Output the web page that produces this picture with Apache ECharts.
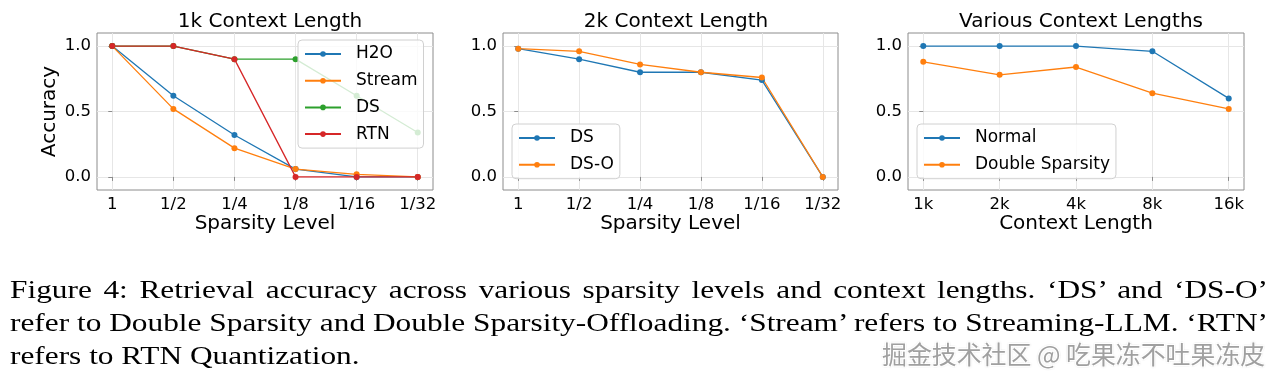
<!DOCTYPE html>
<html>
<head>
<meta charset="utf-8">
<script src="https://cdn.jsdelivr.net/npm/echarts@6/dist/echarts.min.js"></script>
<style>
html,body{margin:0;padding:0;background:#fff;width:1280px;height:383px;overflow:hidden;}
#chart{position:absolute;left:0;top:0;width:1280px;height:383px;}
#caption{position:absolute;left:10px;top:273px;width:1044px;font-family:'Liberation Serif','Times New Roman',serif;font-size:26px;line-height:33px;color:#000;transform:scaleX(1.205);transform-origin:0 0;}
#caption .j{text-align:justify;text-align-last:justify;white-space:nowrap;}
#wm{position:absolute;left:882px;top:335px;font-family:'Noto Sans CJK SC',sans-serif;font-size:24.9px;color:#a0a0a0;text-shadow:1px 1px 0 #fff,-1px -1px 0 #fff,1px -1px 0 #fff,-1px 1px 0 #fff,0 0 2px #666;white-space:nowrap;}
</style>
</head>
<body>
<div id="chart"></div>
<div id="caption">
<div class="j">Figure 4: Retrieval accuracy across various sparsity levels and context lengths. ‘DS’ and ‘DS-O’</div>
<div class="j">refer to Double Sparsity and Double Sparsity-Offloading. ‘Stream’ refers to Streaming-LLM. ‘RTN’</div>
<div>refers to RTN Quantization.</div>
</div>
<div id="wm">掘金技术社区 @ 吃果冻不吐果冻皮</div>
<script>
// ---- data ----
const sparsityLevels = ['1', '1/2', '1/4', '1/8', '1/16', '1/32'];
const contextLengths = ['1k', '2k', '4k', '8k', '16k'];
const yTickValues = [0, 0.5, 1.0];

// Panel 1: 1k context length
const h2o1k    = [1.00, 0.62, 0.32, 0.06, 0.00, 0.00];
const stream1k = [1.00, 0.52, 0.22, 0.06, 0.02, 0.00];
const ds1k     = [1.00, 1.00, 0.90, 0.90, 0.62, 0.34];
const rtn1k    = [1.00, 1.00, 0.90, 0.00, 0.00, 0.00];

// Panel 2: 2k context length
const ds2k  = [0.98, 0.90, 0.80, 0.80, 0.74, 0.00];
const dso2k = [0.98, 0.96, 0.86, 0.80, 0.76, 0.00];

// Panel 3: various context lengths
const normalCtx = [1.00, 1.00, 1.00, 0.96, 0.60];
const doubleSparsityCtx = [0.88, 0.78, 0.84, 0.64, 0.52];

// ---- chart ----
const FONT = 'DejaVu Sans';
const C = {blue:'#1f77b4', orange:'#ff7f0e', green:'#2ca02c', red:'#d62728'};
const toXY = vals => vals.map((v, i) => [i, v]);

const grids = [
  {left: 97, top: 33, width: 336, height: 157},
  {left: 503, top: 33, width: 335, height: 157},
  {left: 908, top: 33, width: 336, height: 157}
].map(g => Object.assign(g, {show: true, borderColor: '#8c8c8c', borderWidth: 1, backgroundColor: 'transparent'}));

function xAxisCfg(gi, cats, name) {
  const n = cats.length;
  const pad = (n - 1) * 0.05;
  const idx = cats.map((c, i) => i);
  return {
    type: 'value', gridIndex: gi, min: -pad, max: n - 1 + pad,
    name: name, nameLocation: 'middle', nameGap: 21,
    nameTextStyle: {fontSize: 20, color: '#000', fontFamily: FONT},
    axisLine: {show: false},
    axisTick: {show: true, customValues: idx, length: 4, lineStyle: {color: '#8c8c8c'}},
    axisLabel: {customValues: idx, formatter: v => cats[Math.round(v)], fontSize: 16.5, color: '#000', fontFamily: FONT, margin: 6},
    splitLine: {show: true, lineStyle: {color: '#e6e6e6', width: 1}}
  };
}
function yAxisCfg(gi, name) {
  return {
    type: 'value', gridIndex: gi, min: -0.1, max: 1.1,
    name: name || '', nameLocation: 'middle', nameGap: 37,
    nameTextStyle: {fontSize: 20, color: '#000', fontFamily: FONT},
    axisLine: {show: false},
    axisTick: {show: true, customValues: yTickValues, length: 4, lineStyle: {color: '#8c8c8c'}},
    axisLabel: {customValues: yTickValues, formatter: v => v.toFixed(1), fontSize: 16.5, color: '#000', fontFamily: FONT, margin: 6},
    splitLine: {show: true, lineStyle: {color: '#e6e6e6', width: 1}}
  };
}
function lineSeries(name, vals, color, gi) {
  return {
    type: 'line', name: name, xAxisIndex: gi, yAxisIndex: gi, data: toXY(vals),
    symbol: 'circle', symbolSize: 6, showSymbol: true,
    lineStyle: {color: color, width: 1.3}, itemStyle: {color: color},
    emphasis: {disabled: true}, animation: false
  };
}
function legendCfg(names, left, top) {
  return {
    data: names, left: left, top: top, orient: 'vertical',
    backgroundColor: 'rgba(255,255,255,0.8)', borderColor: '#d0d0d0', borderWidth: 1, borderRadius: 4,
    padding: [4, 6, 4, 6], itemWidth: 36, itemHeight: 7, itemGap: 6.7,
    formatter: n => n.trim(),
    textStyle: {fontSize: 17, color: '#000', fontFamily: FONT, lineHeight: 20, padding: [0, 0, 0, 10]},
    selectedMode: false, inactiveColor: '#ccc'
  };
}
function titleCfg(text, cx) {
  return {text: text, left: cx, top: 7, textAlign: 'center',
    textStyle: {fontSize: 20, fontWeight: 'normal', color: '#000', fontFamily: FONT}};
}

const chart = echarts.init(document.getElementById('chart'), null, {renderer: 'canvas'});
chart.setOption({
  animation: false,
  title: [
    titleCfg('1k Context Length', 265),
    titleCfg('2k Context Length', 671),
    titleCfg('Various Context Lengths', 1076)
  ],
  grid: grids,
  xAxis: [
    xAxisCfg(0, sparsityLevels, 'Sparsity Level'),
    xAxisCfg(1, sparsityLevels, 'Sparsity Level'),
    xAxisCfg(2, contextLengths, 'Context Length')
  ],
  yAxis: [yAxisCfg(0, 'Accuracy'), yAxisCfg(1), yAxisCfg(2)],
  legend: [
    legendCfg(['H2O', 'Stream', 'DS', 'RTN'], 298, 40),
    legendCfg(['DS ', 'DS-O'], 512, 124),
    legendCfg(['Normal', 'Double Sparsity'], 917, 124)
  ],
  series: [
    lineSeries('H2O', h2o1k, C.blue, 0),
    lineSeries('Stream', stream1k, C.orange, 0),
    lineSeries('DS', ds1k, C.green, 0),
    lineSeries('RTN', rtn1k, C.red, 0),
    lineSeries('DS ', ds2k, C.blue, 1),
    lineSeries('DS-O', dso2k, C.orange, 1),
    lineSeries('Normal', normalCtx, C.blue, 2),
    lineSeries('Double Sparsity', doubleSparsityCtx, C.orange, 2)
  ]
});
</script>
</body>
</html>
